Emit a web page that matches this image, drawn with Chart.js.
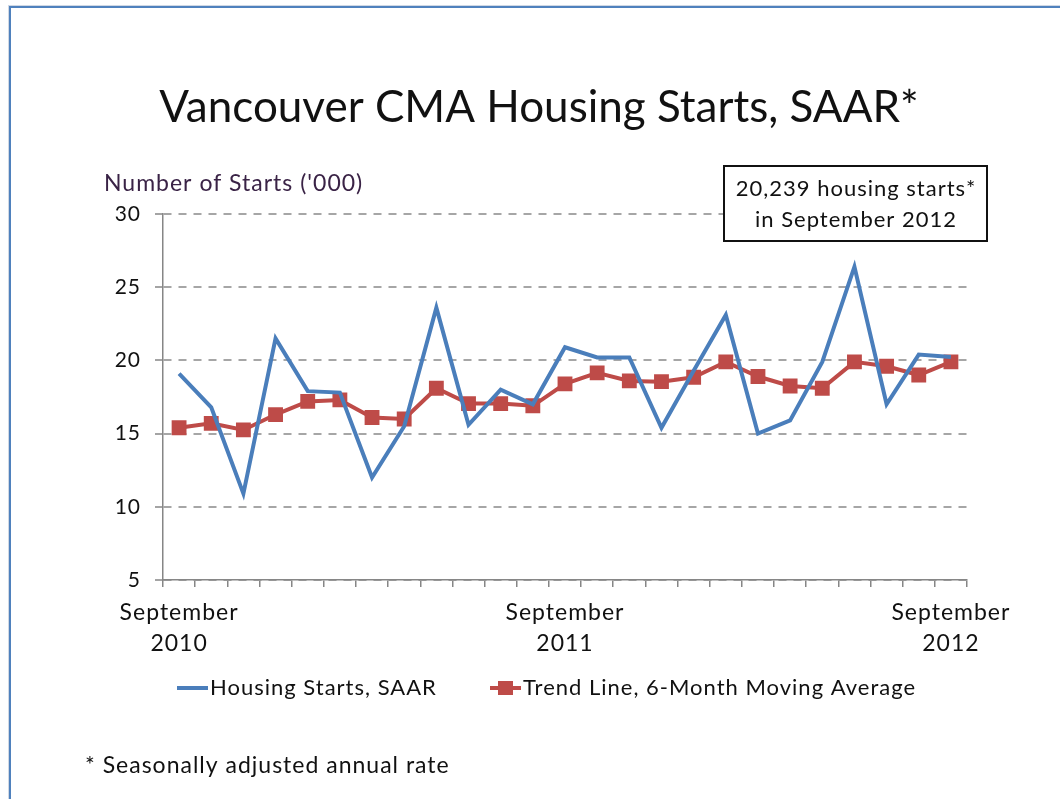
<!DOCTYPE html>
<html>
<head>
<meta charset="utf-8">
<title>Vancouver CMA Housing Starts, SAAR</title>
<script src="https://cdn.jsdelivr.net/npm/chart.js@4"></script>
<style>
	html, body { margin: 0; padding: 0; background: #fff; }
	#wrap { position: relative; width: 1060px; height: 799px; }
	#frame { position: absolute; left: 9px; top: 6px; width: 1100px; height: 850px;
		border-left: 2px solid #4f81bd; border-top: 2px solid #4f81bd; box-shadow: -1px -1px 0 #d0d8e4; }
</style>
</head>
<body>
<div id="wrap">
	<div id="frame"></div>
	<canvas id="chart"></canvas>
</div>
<script>
"use strict";

// monthly, September 2010 .. September 2012
const months = [
	'2010-09', '2010-10', '2010-11', '2010-12', '2011-01', '2011-02', '2011-03', '2011-04', '2011-05',
	'2011-06', '2011-07', '2011-08', '2011-09', '2011-10', '2011-11', '2011-12', '2012-01', '2012-02',
	'2012-03', '2012-04', '2012-05', '2012-06', '2012-07', '2012-08', '2012-09'
];
// thousands of starts
const starts = [
	19.1, 16.8, 10.9, 21.5, 17.9, 17.8, 12.0, 15.5, 23.6, 15.6, 18.0, 17.0, 20.9,
	20.2, 20.2, 15.4, 19.3, 23.1, 15.0, 15.9, 19.9, 26.4, 17.0, 20.4, 20.239
];
const trend = [
	15.4, 15.7, 15.25, 16.3, 17.2, 17.3, 16.1, 16.0, 18.1, 17.05, 17.05, 16.9, 18.4,
	19.15, 18.6, 18.55, 18.85, 19.9, 18.9, 18.25, 18.1, 19.9, 19.6, 19.0, 19.9
];
const yTicks = [5, 10, 15, 20, 25, 30];

const BLUE = '#4a7ebb';
const RED = '#be4b48';
const AXIS = '#868686';
const FONT = 'Lato, "Open Sans", sans-serif';

// the original text is loosely spaced, so widen the canvas letter spacing
const spacing = {
	id: 'spacing',
	beforeDraw: function (chart) { chart.ctx.letterSpacing = '1px'; }
};

const extras = {
	id: 'extras',
	afterDraw: function (chart) {
		const ctx = chart.ctx;
		ctx.save();
		ctx.textBaseline = 'middle';

		// title
		ctx.letterSpacing = '0px';
		ctx.fillStyle = '#111';
		ctx.font = '44px ' + FONT;
		ctx.textAlign = 'center';
		ctx.fillText('Vancouver CMA Housing Starts, SAAR*', 539, 108);
		ctx.letterSpacing = '1px';

		// axis title
		ctx.fillStyle = '#3a2346';
		ctx.font = '23px ' + FONT;
		ctx.textAlign = 'left';
		ctx.fillText("Number of Starts ('000)", 104, 184);

		// callout box
		ctx.fillStyle = '#fff';
		ctx.fillRect(724, 166, 263, 75);
		ctx.strokeStyle = '#111';
		ctx.lineWidth = 2;
		ctx.strokeRect(724, 166, 263, 75);
		ctx.fillStyle = '#111';
		ctx.textAlign = 'center';
		ctx.font = '22px ' + FONT;
		ctx.fillText('20,239 housing starts*', 856, 189);
		ctx.fillText('in September 2012', 856, 220);

		// legend
		const ly = 688;
		ctx.lineWidth = 4;
		ctx.strokeStyle = BLUE;
		ctx.beginPath(); ctx.moveTo(177, ly); ctx.lineTo(208, ly); ctx.stroke();
		ctx.strokeStyle = RED;
		ctx.beginPath(); ctx.moveTo(490, ly); ctx.lineTo(521, ly); ctx.stroke();
		ctx.fillStyle = RED;
		ctx.fillRect(498, ly - 7, 15, 14);
		ctx.fillStyle = '#111';
		ctx.textAlign = 'left';
		ctx.font = '22px ' + FONT;
		ctx.fillText(chart.data.datasets[0].label, 210, ly);
		ctx.fillText(chart.data.datasets[1].label, 523, ly);

		// footnote
		ctx.font = '23px ' + FONT;
		ctx.fillText('* Seasonally adjusted annual rate', 85, 766);
		ctx.restore();
	}
};

new Chart(document.getElementById('chart'), {
	type: 'line',
	data: {
		labels: months,
		datasets: [
			{
				label: 'Housing Starts, SAAR',
				data: starts,
				borderColor: BLUE, borderWidth: 4, pointRadius: 0, tension: 0, fill: false
			},
			{
				label: 'Trend Line, 6-Month Moving Average',
				data: trend,
				borderColor: RED, backgroundColor: RED, borderWidth: 4,
				pointStyle: 'rect', pointRadius: 10.5, pointBorderWidth: 0, tension: 0, fill: false
			}
		]
	},
	options: {
		responsive: true, maintainAspectRatio: false, animation: false,
		layout: { padding: { left: 0, right: 93, top: 214, bottom: 139 } },
		plugins: { legend: { display: false }, tooltip: { enabled: false } },
		scales: {
			x: {
				offset: true,
				afterFit: function (s) { s.height = 80; },
				grid: { offset: true, drawOnChartArea: false, drawTicks: true, tickLength: 7, color: AXIS, lineWidth: 1.5 },
				border: { color: AXIS, width: 1.5 },
				ticks: {
					autoSkip: false, maxRotation: 0, padding: 10, color: '#111',
					font: { family: FONT, size: 23, lineHeight: 1.35 },
					callback: function (v, i) {
						const m = months[i];
						return m.slice(5) === '09' ? ['September', m.slice(0, 4)] : '';
					}
				}
			},
			y: {
				min: 5, max: 30,
				afterFit: function (s) { s.width = 163; },
				afterBuildTicks: function (s) { s.ticks = yTicks.map(function (v) { return { value: v }; }); },
				grid: { color: '#a6a6a6', lineWidth: 2, tickLength: 8, tickColor: AXIS, tickWidth: 1.5, tickBorderDash: [] },
				border: { color: AXIS, width: 1.5, dash: [8, 7] },
				ticks: { padding: 14, color: '#111', font: { family: FONT, size: 21 } }
			}
		}
	},
	plugins: [spacing, extras]
});
</script>
</body>
</html>
